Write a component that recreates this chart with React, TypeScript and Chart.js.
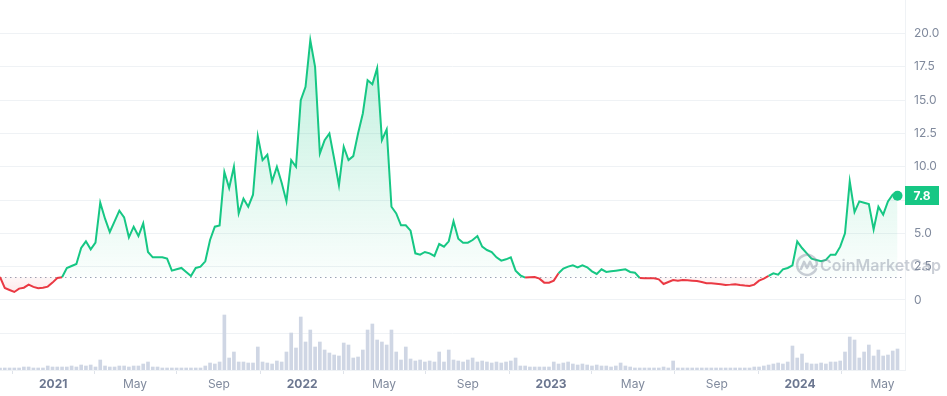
import React, { useEffect, useRef } from 'react';
import { Chart, registerables } from 'chart.js';

Chart.register(...registerables);

// ---- data ----
const START_DATE = '2020-10-15';
const STEP_DAYS = 7;
const X_END_DATE = '2024-06-03';

const prices = [
  1.73, 0.9, 0.75, 0.6, 0.85, 0.92, 1.15, 0.98, 0.88, 0.92,
  1.0, 1.3, 1.65, 1.7, 2.4, 2.55, 2.7, 3.9, 4.4, 3.8,
  4.3, 7.3, 6.1, 5.1, 5.9, 6.7, 6.2, 4.7, 5.5, 4.8,
  5.75, 3.6, 3.2, 3.2, 3.2, 3.1, 2.2, 2.3, 2.4, 2.1,
  1.8, 2.4, 2.5, 2.9, 4.5, 5.5, 5.6, 9.6, 8.4, 10.0,
  6.5, 7.6, 7.0, 7.9, 12.3, 10.5, 10.9, 8.9, 10.0, 8.8,
  7.4, 10.5, 10.0, 15.0, 16.0, 19.5, 17.5, 11.0, 12.0, 12.5,
  10.6, 8.6, 11.5, 10.5, 10.8, 12.5, 14.0, 16.5, 16.2, 17.4,
  12.0, 12.8, 7.0, 6.5, 5.6, 5.6, 5.2, 3.5, 3.4, 3.6,
  3.5, 3.3, 4.2, 4.0, 4.4, 5.9, 4.6, 4.3, 4.3, 4.5,
  4.8, 4.0, 3.75, 3.6, 3.2, 2.95, 3.05, 3.2, 2.2, 1.85,
  1.68, 1.7, 1.72, 1.6, 1.3, 1.3, 1.45, 2.0, 2.35, 2.5,
  2.6, 2.45, 2.6, 2.45, 2.15, 1.95, 2.3, 2.1, 2.15, 2.2,
  2.25, 2.3, 2.1, 2.05, 1.65, 1.63, 1.62, 1.63, 1.55, 1.2,
  1.35, 1.5, 1.45, 1.5, 1.48, 1.45, 1.42, 1.35, 1.25, 1.25,
  1.22, 1.18, 1.13, 1.15, 1.18, 1.12, 1.08, 1.05, 1.15, 1.45,
  1.6, 1.8, 2.0, 1.9, 2.3, 2.4, 2.6, 4.4, 3.9, 3.5,
  3.1, 3.0, 2.9, 3.0, 3.4, 3.4, 4.0, 5.0, 8.9, 6.6,
  7.4, 7.3, 7.2, 5.3, 7.0, 6.4, 7.4, 7.9, 7.82,
];

// volume, in units of $10M
const volumes = [
  2, 2, 2, 2, 2, 3, 3, 2, 2, 2,
  4, 3, 3, 3, 3, 4, 3, 5, 4, 5,
  3, 10, 4, 3, 3, 4, 4, 3, 4, 4,
  6, 8, 3, 3, 2, 2, 2, 2, 2, 2,
  2, 2, 2, 4, 7, 6, 8, 55, 12, 18,
  8, 8, 7, 7, 23, 8, 7, 6, 9, 8,
  18, 37, 22, 53, 28, 40, 23, 28, 20, 17,
  15, 14, 27, 25, 12, 13, 20, 40, 46, 30,
  28, 25, 40, 18, 10, 23, 11, 9, 10, 8,
  9, 8, 18, 8, 20, 10, 9, 8, 10, 12,
  8, 9, 8, 7, 8, 7, 8, 9, 12, 4,
  4, 3, 3, 3, 3, 3, 8, 6, 7, 8,
  6, 5, 6, 5, 4, 5, 4, 4, 3, 4,
  7, 4, 3, 2, 2, 2, 2, 2, 2, 3,
  2, 9, 2, 2, 2, 2, 2, 2, 2, 2,
  2, 2, 2, 2, 2, 2, 2, 2, 3, 3,
  4, 5, 6, 7, 6, 8, 24, 12, 16, 7,
  6, 6, 7, 6, 8, 8, 9, 18, 33, 30,
  12, 18, 25, 14, 20, 14, 15, 19, 21,
];
const VOLUME_AXIS_MAX = 370;

const tickDates = [
  '2021-01-01', '2021-05-01', '2021-09-01',
  '2022-01-01', '2022-05-01', '2022-09-01',
  '2023-01-01', '2023-05-01', '2023-09-01',
  '2024-01-01', '2024-05-01',
];
const tickLabels = ['2021', 'May', 'Sep', '2022', 'May', 'Sep', '2023', 'May', 'Sep', '2024', 'May'];
const priceTicks = [-2.5, 0, 2.5, 5, 7.5, 10, 12.5, 15, 17.5, 20];
const PRICE_MIN = -5.26;
const PRICE_MAX = 22.52;

const GREEN = '#16c784';
const RED = '#ea3943';
const AXIS_TEXT = '#808a9d';
const GRID = '#eff2f5';

const DAY_MS = 86400000;
const dayOf = (s: string) => Math.round(Date.parse(s + 'T00:00:00Z') / DAY_MS);

export default function App() {
  const ref = useRef<HTMLCanvasElement>(null);

  useEffect(() => {
    document.body.style.margin = '0';
    const start = dayOf(START_DATE);
    const xs = prices.map((_, i) => start + i * STEP_DAYS);
    const base = prices[0];
    const tickDays = tickDates.map(dayOf);
    const last = prices[prices.length - 1];

    const extras = {
      id: 'cmcExtras',
      beforeDatasetsDraw(chart: any) {
        const { ctx, chartArea } = chart;
        const yb = Math.round(chart.scales.y.getPixelForValue(base)) + 0.5;
        ctx.save();
        ctx.strokeStyle = '#9aa3b5';
        ctx.lineWidth = 1;
        ctx.setLineDash([1.5, 3.5]);
        ctx.beginPath();
        ctx.moveTo(chartArea.left, yb);
        ctx.lineTo(chartArea.right, yb);
        ctx.stroke();
        ctx.restore();
      },
      afterDatasetsDraw(chart: any) {
        const { ctx, chartArea } = chart;
        const yb = chart.scales.y.getPixelForValue(base);
        // watermark
        ctx.save();
        const cx = chartArea.right - 98;
        const cy = yb - 12;
        ctx.strokeStyle = 'rgba(128,138,157,0.42)';
        ctx.lineWidth = 2.5;
        ctx.lineCap = 'round';
        ctx.lineJoin = 'round';
        ctx.beginPath();
        ctx.arc(cx, cy, 10, 0.45, Math.PI * 2 - 0.05, false);
        ctx.stroke();
        ctx.beginPath();
        ctx.moveTo(cx - 6, cy + 4);
        ctx.lineTo(cx - 3, cy - 3);
        ctx.lineTo(cx, cy + 3);
        ctx.lineTo(cx + 3, cy - 3);
        ctx.lineTo(cx + 6, cy + 3);
        ctx.lineTo(cx + 9, cy + 1);
        ctx.stroke();
        ctx.fillStyle = 'rgba(128,138,157,0.42)';
        ctx.font = '600 16px Inter';
        ctx.textBaseline = 'middle';
        ctx.textAlign = 'left';
        ctx.fillText('CoinMarketCap', chartArea.right - 85, cy + 1);
        ctx.restore();

        // current price label
        const yl = chart.scales.y.getPixelForValue(last);
        ctx.save();
        ctx.fillStyle = GREEN;
        ctx.fillRect(chartArea.right, Math.round(yl - 9.5), 34, 19);
        ctx.fillStyle = '#ffffff';
        ctx.font = 'bold 12px Inter';
        ctx.textAlign = 'center';
        ctx.textBaseline = 'middle';
        ctx.fillText(last.toFixed(1), chartArea.right + 17, yl + 0.5);
        ctx.restore();
      },
    };

    const chart = new Chart(ref.current as HTMLCanvasElement, {
      type: 'line',
      data: {
        datasets: [
          {
            type: 'line',
            data: xs.map((x, i) => ({ x, y: prices[i] })),
            yAxisID: 'y',
            borderColor: GREEN,
            borderWidth: 2,
            tension: 0,
            pointRadius: (c: any) => (c.dataIndex === prices.length - 1 ? 5 : 0),
            pointHoverRadius: 0,
            pointBackgroundColor: GREEN,
            pointBorderWidth: 0,
            fill: { target: { value: base } },
            backgroundColor: (c: any) => {
              const ch = c.chart;
              const area = ch.chartArea;
              if (!area || !ch.scales || !ch.scales.y) return 'rgba(0,0,0,0)';
              const yb = ch.scales.y.getPixelForValue(base);
              const g = ch.ctx.createLinearGradient(0, area.top, 0, area.bottom);
              const f = Math.max(0, Math.min(1, (yb - area.top) / (area.bottom - area.top)));
              g.addColorStop(0, 'rgba(22,199,132,0.32)');
              g.addColorStop(f, 'rgba(22,199,132,0.02)');
              g.addColorStop(Math.min(1, f + 0.001), 'rgba(234,57,67,0.04)');
              g.addColorStop(Math.min(1, f + 0.06), 'rgba(234,57,67,0.15)');
              g.addColorStop(1, 'rgba(234,57,67,0.15)');
              return g;
            },
            segment: {
              borderColor: (c: any) => ((c.p0.parsed.y + c.p1.parsed.y) / 2 < base ? RED : GREEN),
            },
            order: 1,
          } as any,
          {
            type: 'bar',
            data: xs.map((x, i) => ({ x, y: volumes[i] })),
            yAxisID: 'yv',
            backgroundColor: '#cfd6e4',
            barThickness: 3,
            order: 2,
          } as any,
        ],
      },
      options: {
        responsive: false,
        animation: false,
        events: [],
        layout: { padding: 0, autoPadding: false },
        plugins: {
          legend: { display: false },
          tooltip: { enabled: false },
        },
        scales: {
          x: {
            type: 'linear',
            min: start,
            max: dayOf(X_END_DATE),
            offset: false,
            afterBuildTicks: (s: any) => {
              s.ticks = tickDays.map((v) => ({ value: v }));
            },
            afterFit: (s: any) => {
              s.height = 26;
              s.paddingLeft = 0;
              s.paddingRight = 0;
            },
            grid: {
              drawOnChartArea: false,
              drawTicks: true,
              tickLength: 4,
              tickColor: '#dfe3ea',
            },
            border: { display: true, color: GRID },
            ticks: {
              autoSkip: false,
              maxRotation: 0,
              padding: 3,
              callback: (_v: any, i: number) => tickLabels[i],
              font: (c: any) => ({
                family: 'Inter',
                size: 12,
                weight: /^\d{4}$/.test(tickLabels[c.index] || '') ? 'bold' : 'normal',
              }),
              color: (c: any) => (/^\d{4}$/.test(tickLabels[c.index] || '') ? '#6c7790' : AXIS_TEXT),
            },
          },
          y: {
            type: 'linear',
            position: 'right',
            min: PRICE_MIN,
            max: PRICE_MAX,
            afterBuildTicks: (s: any) => {
              s.ticks = priceTicks.map((v) => ({ value: v }));
            },
            afterFit: (s: any) => {
              s.width = 42;
              s.paddingTop = 0;
              s.paddingBottom = 0;
            },
            grid: { color: GRID, drawTicks: false, lineWidth: 1 },
            border: { display: true, color: GRID },
            ticks: {
              padding: 9,
              color: AXIS_TEXT,
              font: { family: 'Inter', size: 12 },
              callback: (v: any) => (v < 0 ? '' : v === 0 ? '0' : Number(v).toFixed(1)),
            },
          },
          yv: {
            type: 'linear',
            display: false,
            min: 0,
            max: VOLUME_AXIS_MAX,
          },
        },
      },
      plugins: [extras],
    } as any);

    return () => chart.destroy();
  }, []);

  return <canvas ref={ref} width={947} height={396} style={{ display: 'block' }} />;
}
